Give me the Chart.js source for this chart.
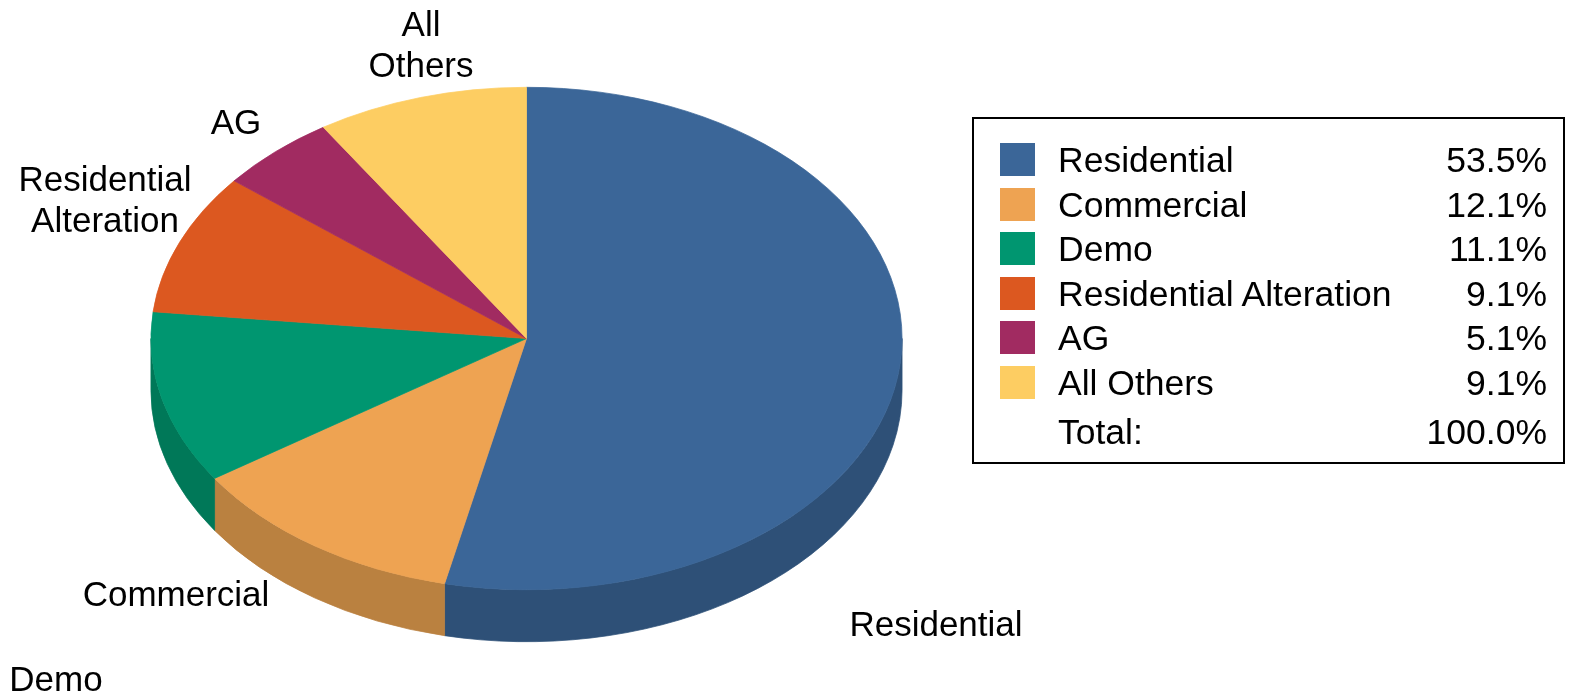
<!DOCTYPE html>
<html>
<head>
<meta charset="utf-8">
<script src="https://cdn.jsdelivr.net/npm/chart.js@4/dist/chart.umd.min.js"></script>
<style>
  html, body { margin: 0; padding: 0; background: #fff; }
  body { width: 1583px; height: 696px; position: relative; overflow: hidden;
         font-family: "Liberation Sans", Arial, sans-serif; }
  #pie { position: absolute; left: 0; top: 0; }
  #legend { position: absolute; left: 972px; top: 117px; width: 593px; height: 347px;
            border: 2px solid #000; box-sizing: border-box; }
  .row { position: absolute; left: 0; right: 0; height: 44px; line-height: 44px;
         font-size: 35.5px; color: #000; }
  .row .sw { position: absolute; left: 26px; top: 5px; width: 35px; height: 33px; }
  .row .nm { position: absolute; left: 84px; }
  .row .pc { position: absolute; right: 16px; }
</style>
</head>
<body>
<canvas id="pie" width="1583" height="696"></canvas>
<div id="legend"></div>
<script>
// Dữ liệu biểu đồ
const categories = ['Residential', 'Commercial', 'Demo', 'Residential Alteration', 'AG', 'All Others'];
const shares = [53.5, 12.1, 11.1, 9.1, 5.1, 9.1];
const sliceLabels = [['Residential'], ['Commercial'], ['Demo'], ['Residential', 'Alteration'], ['AG'], ['All', 'Others']];
const totalText = 'Total:';

// Màu sắc
const topColors = ['#3B6698', '#EEA352', '#009670', '#DC5820', '#A12B61', '#FDCD62'];
const sideColors = ['#2E5077', '#BA8140', '#007858', '#AC4419', '#7E224C', '#C6A04C'];

// Vị trí nhãn quanh bánh (tâm chữ, px)
const labelAnchors = [[936, 626], [176, 596], [56, 681], [105, 181], [236, 124], [421, 26]];
const labelLineHeight = 41;

// Plugin vẽ bánh 3D: ép dẹt theo chiều ngang và thêm thành bên
const pie3d = {
    id: 'pie3d',
    beforeDatasetsDraw(chart, args, opts) {
        const ctx = chart.ctx;
        const meta = chart.getDatasetMeta(0);
        const first = meta.data[0];
        const cx = first.x, cy = first.y, r = first.outerRadius;
        ctx.save();
        ctx.translate(cx, cy);
        ctx.scale(opts.scaleX, 1);
        ctx.translate(-cx, -cy);
        meta.data.forEach((arc, i) => {
            [[0, Math.PI], [2 * Math.PI, 3 * Math.PI]].forEach(([lo, hi]) => {
                const a = Math.max(arc.startAngle, lo);
                const b = Math.min(arc.endAngle, hi);
                if (b <= a) return;
                ctx.beginPath();
                ctx.arc(cx, cy, r, a, b);
                ctx.arc(cx, cy + opts.depth, r, b, a, true);
                ctx.closePath();
                ctx.fillStyle = sideColors[i];
                ctx.strokeStyle = sideColors[i];
                ctx.lineWidth = 0.6;
                ctx.fill();
                ctx.stroke();
            });
        });
    },
    afterDatasetsDraw(chart) {
        chart.ctx.restore();
    }
};

// Plugin vẽ nhãn quanh bánh
const outsideLabels = {
    id: 'outsideLabels',
    afterDraw(chart) {
        const ctx = chart.ctx;
        ctx.save();
        ctx.font = '35px "Liberation Sans", Arial, sans-serif';
        ctx.fillStyle = '#000';
        ctx.textAlign = 'center';
        ctx.textBaseline = 'middle';
        sliceLabels.forEach((lines, i) => {
            const [x, y] = labelAnchors[i];
            lines.forEach((t, k) => ctx.fillText(t, x, y + k * labelLineHeight));
        });
        ctx.restore();
    }
};

new Chart(document.getElementById('pie').getContext('2d'), {
    type: 'pie',
    data: {
        labels: categories,
        datasets: [{
            data: shares,
            backgroundColor: topColors,
            borderColor: topColors,
            borderWidth: 0.6
        }]
    },
    options: {
        responsive: false,
        animation: false,
        events: [],
        layout: { padding: { left: 275, right: 805, top: 87, bottom: 106 } },
        plugins: {
            legend: { display: false },
            tooltip: { enabled: false },
            pie3d: { scaleX: 376 / 251.5, depth: 52 }
        }
    },
    plugins: [pie3d, outsideLabels]
});

// Chú giải dạng bảng
const legend = document.getElementById('legend');
const rowTops = [19, 63.5, 108, 152.5, 197, 241.5, 291];
categories.forEach((name, i) => {
    const row = document.createElement('div');
    row.className = 'row';
    row.style.top = rowTops[i] + 'px';
    row.innerHTML = '<span class="sw" style="background:' + topColors[i] + '"></span>' +
        '<span class="nm">' + name + '</span><span class="pc">' + shares[i].toFixed(1) + '%</span>';
    legend.appendChild(row);
});
const total = shares.reduce((s, v) => s + v, 0);
const totalRow = document.createElement('div');
totalRow.className = 'row';
totalRow.style.top = rowTops[categories.length] + 'px';
totalRow.innerHTML = '<span class="nm">' + totalText + '</span><span class="pc">' + total.toFixed(1) + '%</span>';
legend.appendChild(totalRow);
</script>
</body>
</html>
